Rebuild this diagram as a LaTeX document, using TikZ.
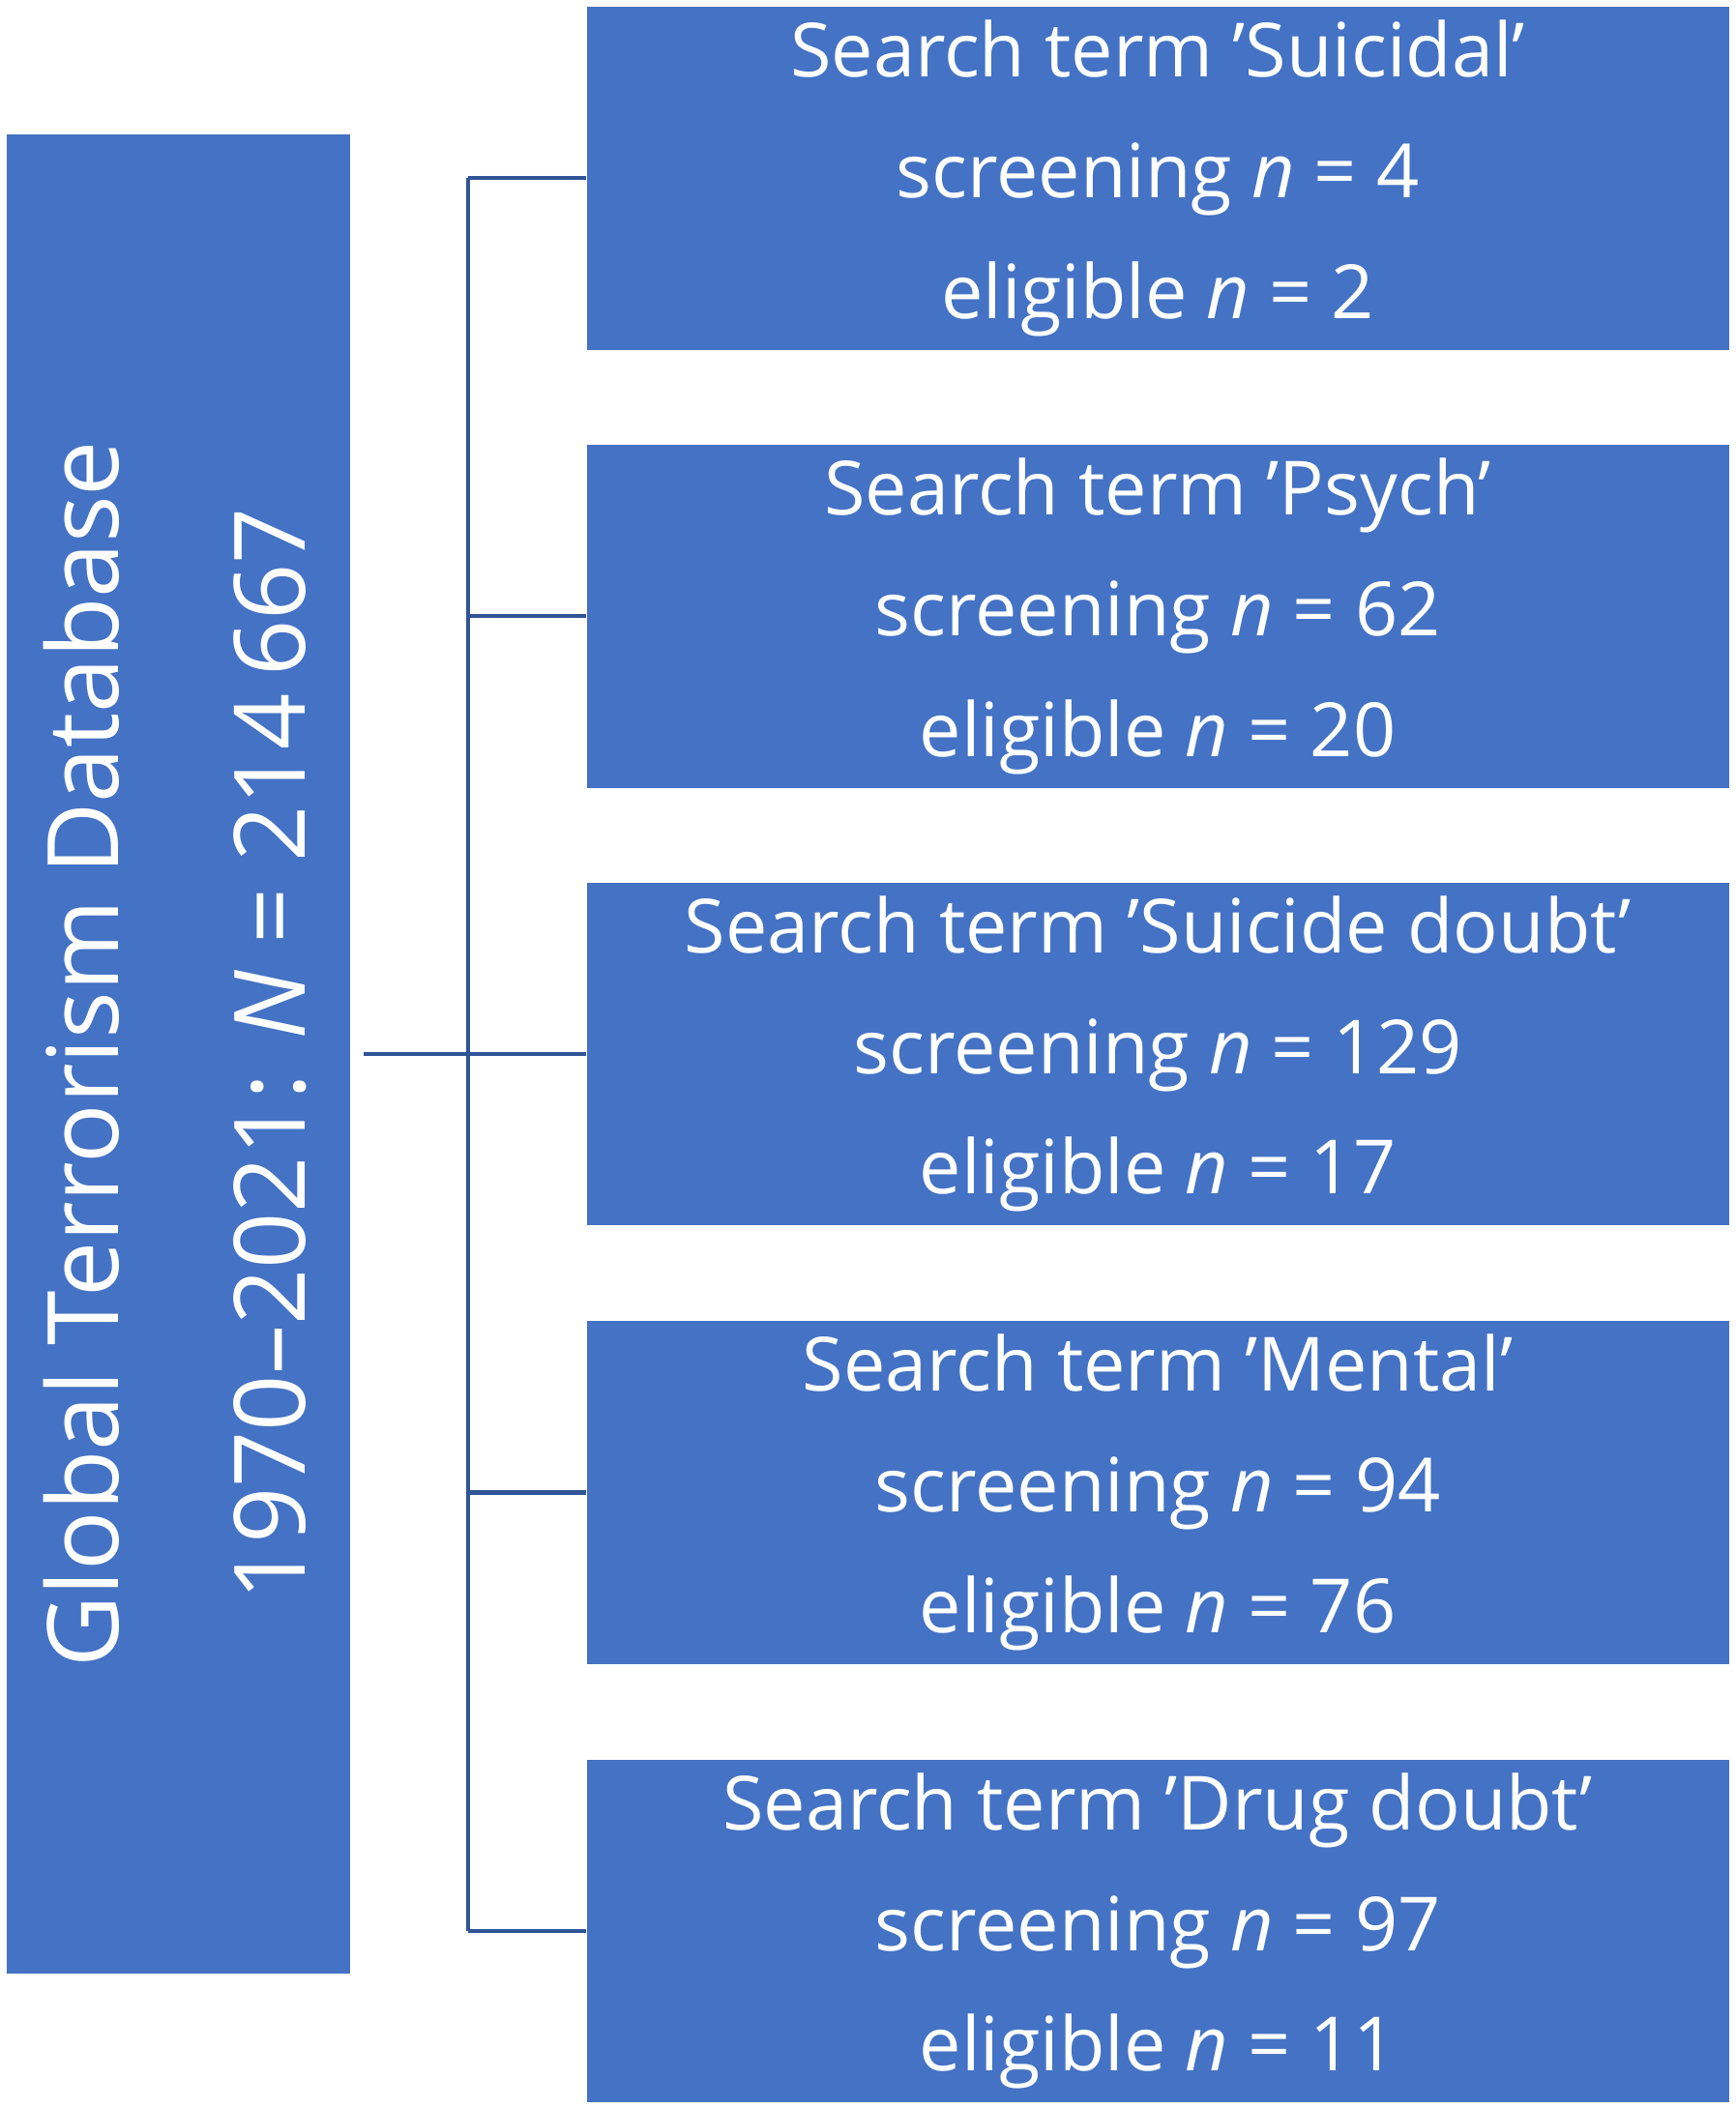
\documentclass[tikz,border=0pt]{standalone}
\usepackage{fontspec}
\setmainfont{Open Sans}
\definecolor{boxblue}{HTML}{4472C4}
\definecolor{lineblue}{HTML}{2F5597}
\tikzset{
  termbox/.style={fill=boxblue, text=white, minimum width=118.07mm, minimum height=35.46mm,
    inner sep=0pt, align=center, font=\fontsize{22}{35.5}\selectfont},
  link/.style={lineblue, line width=1.2pt}
}
\begin{document}
\begin{tikzpicture}[x=0.13907mm, y=-0.13907mm]
  \useasboundingbox (0,0) rectangle (1290,1567);
  % database box
  \node[fill=boxblue, text=white, minimum width=35.46mm, minimum height=190.1mm, inner sep=0pt]
    (gtd) at (132.5,783.5) {};
  \node[rotate=90, text=white, align=center, font=\fontsize{29}{55}\selectfont]
    (gtdtext) at (130,783.5) {Global Terrorism Database\\1970--2021: \textit{N} = 214\,667};
  % search term boxes
  \foreach \name/\y/\term/\scr/\elig in {s1/132.5/Suicidal/4/2, s2/458/Psych/62/20,
      s3/783.5/Suicide doubt/129/17, s4/1109.5/Mental/94/76, s5/1435.5/Drug doubt/97/11}
  {
    \node[termbox] (\name) at (860.5,\y) {Search term '\term'\\screening \textit{n} = \scr\\eligible \textit{n} = \elig};
    \coordinate (\name j) at (348,\y);
    \draw[link] (\name j) -- (\name.west);
  }
  \coordinate (hub) at (348,783.5);
  \draw[link] (s1j) -- (s5j);
  \draw[link] ([xshift=4]gtd.east) -- (hub);
\end{tikzpicture}
\end{document}
